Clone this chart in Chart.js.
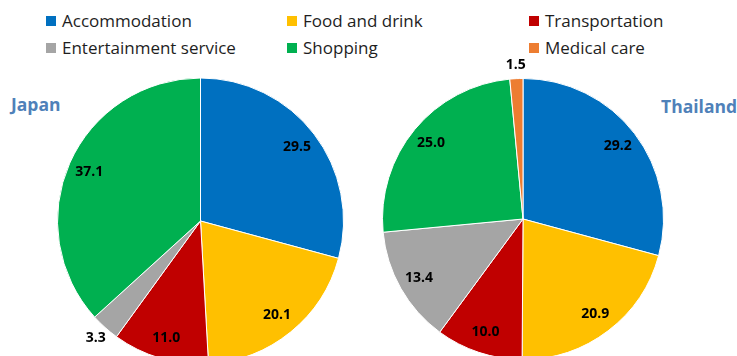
<!DOCTYPE html>
<html>
<head>
<meta charset="utf-8">
<script src="https://cdn.jsdelivr.net/npm/chart.js@4"></script>
<style>
  html, body { margin:0; padding:0; width:737px; height:356px; overflow:hidden; background:#fff; }
  .cv { position:absolute; left:0; top:0; }
  #legend { position:absolute; left:46px; top:9px; display:grid; grid-template-columns:241px 242px 180px; row-gap:4px;
            font-family:"Open Sans", sans-serif; font-size:17px; color:#1e1e1e; }
  #legend .item { display:flex; align-items:center; height:23px; white-space:nowrap; }
  #legend .box { width:10px; height:10px; margin-right:6px; flex:none; }
  .ttl { position:absolute; font-family:"Open Sans", sans-serif; font-weight:bold; font-size:17.5px; color:#4f81b9; }
</style>
</head>
<body>
<div id="legend"></div>
<div class="ttl" style="left:11px; top:92px;">Japan</div>
<div class="ttl" style="left:661px; top:94px;">Thailand</div>
<canvas id="c1" class="cv" width="737" height="420"></canvas>
<canvas id="c2" class="cv" width="737" height="420"></canvas>
<script>
const categories = ["Accommodation", "Food and drink", "Transportation", "Entertainment service", "Shopping", "Medical care"];
const japanValues = [29.5, 20.1, 11.0, 3.3, 37.1, 0];
const thailandValues = [29.2, 20.9, 10.0, 13.4, 25.0, 1.5];
const colors = ["#0070C0", "#FFC000", "#C00000", "#A5A5A5", "#00B050", "#ED7D31"];

const valueLabels = {
  id: 'valueLabels',
  afterDatasetsDraw(chart) {
    const ctx = chart.ctx;
    const meta = chart.getDatasetMeta(0);
    const data = chart.data.datasets[0].data;
    ctx.save();
    ctx.font = 'bold 14px "Open Sans", sans-serif';
    ctx.fillStyle = '#000';
    ctx.textAlign = 'center';
    ctx.textBaseline = 'middle';
    meta.data.forEach((arc, i) => {
      const v = data[i];
      if (!v) return;
      const p = arc.getProps(['x','y','startAngle','endAngle','outerRadius'], true);
      const mid = (p.startAngle + p.endAngle) / 2;
      const r = v < 5 ? p.outerRadius + 14 : p.outerRadius * 0.85;
      ctx.fillText(v.toFixed(1), p.x + Math.cos(mid) * r, p.y + Math.sin(mid) * r);
    });
    ctx.restore();
  }
};

function makePie(id, values, pad) {
  return new Chart(document.getElementById(id), {
    type: 'pie',
    data: {
      labels: categories,
      datasets: [{ data: values, backgroundColor: colors, borderColor: '#ffffff', borderWidth: 1 }]
    },
    options: {
      responsive: false,
      animation: false,
      layout: { padding: pad },
      plugins: { legend: { display: false }, tooltip: { enabled: false } }
    },
    plugins: [valueLabels]
  });
}

const japan = makePie('c1', japanValues, { left: 57, top: 77, right: 393, bottom: 55 });
const thailand = makePie('c2', thailandValues, { left: 382, top: 78, right: 73, bottom: 60 });

// HTML legend built from Chart.js legend items
const items = Chart.overrides.pie.plugins.legend.labels.generateLabels(thailand);
const legendEl = document.getElementById('legend');
items.forEach(it => {
  const d = document.createElement('div');
  d.className = 'item';
  const b = document.createElement('span');
  b.className = 'box';
  b.style.background = it.fillStyle;
  const t = document.createElement('span');
  t.textContent = it.text;
  d.appendChild(b); d.appendChild(t);
  legendEl.appendChild(d);
});
</script>
</body>
</html>
